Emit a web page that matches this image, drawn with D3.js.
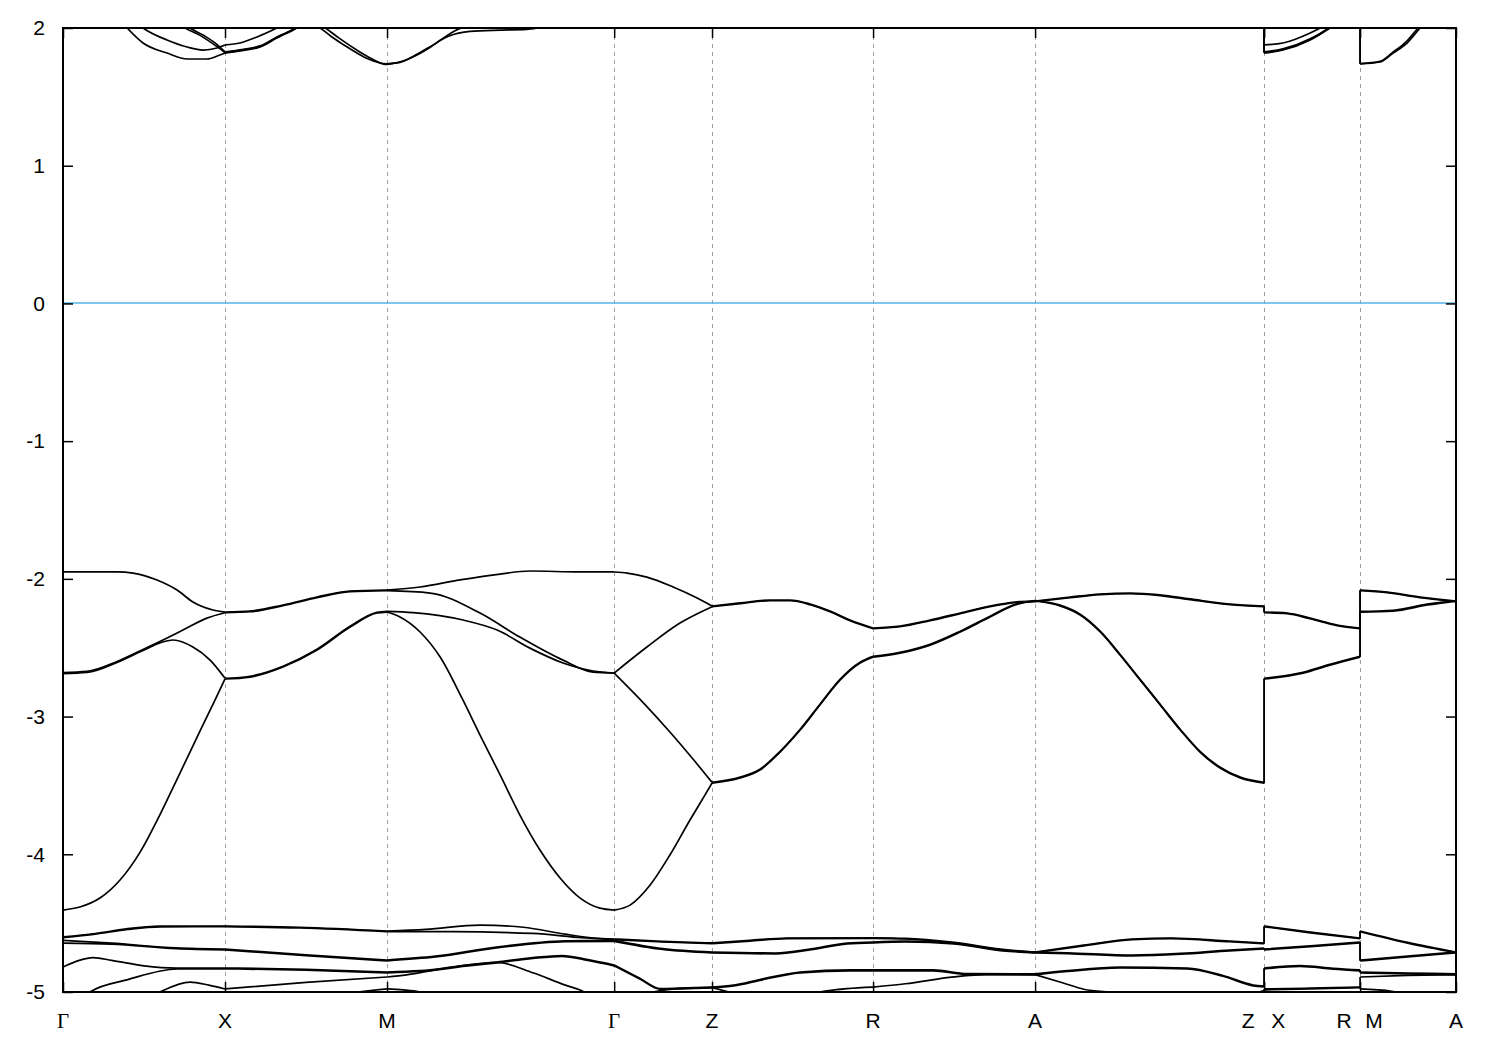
<!DOCTYPE html>
<html><head><meta charset="utf-8">
<script src="https://cdn.jsdelivr.net/npm/d3@7"></script>
<style>
body{margin:0;background:#fff;}
svg{display:block;}
</style></head><body>
<svg id="chart" width="1500" height="1050"></svg>
<script>
// ---- k-path (high-symmetry points) ----
const kPoints = [0, 0.5, 1.0, 1.701, 2.003, 2.5, 3.0, 3.707, 4.003, 4.299];
const kLabels = ["Γ", "X", "M", "Γ", "Z", "R", "A", "Z|X", "R|M", "A"];
const yTickValues = [-5, -4, -3, -2, -1, 0, 1, 2];
const energyRange = [-5, 2];
const fermiEnergy = 0;

// ---- conduction bands (top) ----
const c1 = [[0,2.6],[0.1,2.3],[0.198,2.0],[0.247,1.891],[0.321,1.818],[0.383,1.775],[0.444,1.775],[0.48,1.8],[0.5,1.818],[0.546,1.833],[0.608,1.862],[0.66,1.927],[0.722,2.0],[0.76,2.03],[0.793,2.0],[0.83,1.935],[0.892,1.84],[0.935,1.782],[0.98,1.746],[1.0,1.74],[1.04,1.75],[1.07,1.78],[1.13,1.86],[1.19,1.94],[1.256,1.975],[1.35,1.985],[1.43,1.99],[1.49,2.02],[1.6,2.3],[1.701,2.5],[2.003,2.7],[2.5,2.7],[3.0,2.7],[3.707,2.6],[3.707,1.818],[3.765,1.84],[3.849,1.913],[3.91,2.0],[4.003,2.15],[4.003,1.739],[4.065,1.753],[4.105,1.818],[4.148,1.891],[4.188,2.0],[4.299,2.3]];
const c2 = [[0,2.7],[0.1,2.4],[0.247,2.0],[0.321,1.913],[0.383,1.862],[0.432,1.84],[0.475,1.855],[0.5,1.877],[0.546,1.891],[0.599,1.935],[0.66,2.0],[0.74,2.1],[0.81,2.0],[0.85,1.93],[0.91,1.835],[0.95,1.78],[0.99,1.737],[1.0,1.735],[1.06,1.77],[1.12,1.84],[1.17,1.92],[1.21,1.98],[1.25,2.02],[1.35,2.15],[1.701,2.45],[2.003,2.8],[2.5,2.8],[3.0,2.8],[3.707,2.7],[3.707,1.877],[3.765,1.891],[3.849,1.964],[3.88,2.0],[4.003,2.2],[4.003,1.742],[4.065,1.758],[4.105,1.826],[4.145,1.9],[4.182,2.0],[4.299,2.3]];
const c3 = [[0,2.9],[0.3,2.15],[0.377,2.0],[0.42,1.95],[0.46,1.89],[0.5,1.822],[0.546,1.837],[0.608,1.866],[0.66,1.931],[0.722,2.004],[0.8,2.2],[1.0,2.4],[1.701,2.8],[2.5,2.9],[3.707,2.8],[3.707,1.822],[3.765,1.844],[3.849,1.917],[3.91,2.004],[4.003,2.2],[4.003,2.3],[4.299,2.5]];
const c4 = [[0,2.95],[0.3,2.2],[0.392,2.0],[0.435,1.945],[0.47,1.89],[0.5,1.826],[0.546,1.841],[0.608,1.87],[0.66,1.935],[0.722,2.008],[0.8,2.2],[1.0,2.45],[1.701,2.85],[2.5,2.95],[3.707,2.85],[3.707,1.826],[3.765,1.848],[3.849,1.921],[3.91,2.008],[4.003,2.25],[4.003,2.35],[4.299,2.55]];

// ---- valence bands (middle group) ----
const m1 = [[0,-4.405],[0.052,-4.383],[0.114,-4.318],[0.176,-4.187],[0.238,-3.984],[0.299,-3.713],[0.361,-3.41],[0.423,-3.104],[0.469,-2.88],[0.5,-2.727],[0.577,-2.713],[0.679,-2.64],[0.784,-2.517],[0.886,-2.35],[0.969,-2.248],[1.0,-2.241],[1.04,-2.277],[1.102,-2.386],[1.164,-2.568],[1.231,-2.865],[1.287,-3.134],[1.349,-3.424],[1.41,-3.715],[1.472,-3.969],[1.534,-4.172],[1.596,-4.318],[1.657,-4.391],[1.701,-4.405],[1.75,-4.369],[1.812,-4.223],[1.873,-4.005],[1.935,-3.751],[1.981,-3.57],[2.003,-3.483],[2.09,-3.446],[2.151,-3.388],[2.213,-3.258],[2.275,-3.098],[2.336,-2.916],[2.398,-2.735],[2.46,-2.611],[2.5,-2.568],[2.583,-2.539],[2.676,-2.481],[2.769,-2.386],[2.861,-2.277],[2.938,-2.19],[3.0,-2.161],[3.077,-2.197],[3.139,-2.263],[3.201,-2.386],[3.262,-2.553],[3.324,-2.735],[3.386,-2.916],[3.448,-3.098],[3.509,-3.258],[3.571,-3.374],[3.633,-3.446],[3.707,-3.483],[3.707,-2.727],[3.827,-2.684],[3.91,-2.626],[4.003,-2.568],[4.003,-2.241],[4.105,-2.234],[4.21,-2.19],[4.299,-2.161]];
const m2 = [[0,-2.688],[0.074,-2.68],[0.167,-2.607],[0.247,-2.52],[0.299,-2.465],[0.34,-2.444],[0.401,-2.495],[0.454,-2.59],[0.5,-2.722],[0.577,-2.707],[0.679,-2.634],[0.784,-2.511],[0.886,-2.344],[0.969,-2.243],[1.0,-2.236],[1.08,-2.245],[1.235,-2.299],[1.34,-2.372],[1.441,-2.503],[1.543,-2.611],[1.636,-2.669],[1.701,-2.684],[1.781,-2.875],[1.873,-3.112],[1.95,-3.325],[2.003,-3.478],[2.09,-3.44],[2.151,-3.382],[2.213,-3.252],[2.275,-3.092],[2.336,-2.91],[2.398,-2.729],[2.46,-2.605],[2.5,-2.562],[2.583,-2.533],[2.676,-2.475],[2.769,-2.38],[2.861,-2.271],[2.938,-2.185],[3.0,-2.158],[3.077,-2.191],[3.139,-2.257],[3.201,-2.38],[3.262,-2.547],[3.324,-2.729],[3.386,-2.91],[3.448,-3.092],[3.509,-3.252],[3.571,-3.368],[3.633,-3.44],[3.707,-3.478],[3.707,-2.722],[3.827,-2.678],[3.91,-2.62],[4.003,-2.562],[4.003,-2.236],[4.105,-2.228],[4.21,-2.184],[4.299,-2.158]];
const m3 = [[0,-2.68],[0.074,-2.672],[0.167,-2.6],[0.247,-2.513],[0.299,-2.455],[0.37,-2.372],[0.444,-2.285],[0.5,-2.246],[0.577,-2.239],[0.679,-2.195],[0.784,-2.137],[0.886,-2.093],[1.0,-2.086],[1.133,-2.103],[1.287,-2.248],[1.41,-2.423],[1.543,-2.59],[1.636,-2.677],[1.701,-2.684],[1.802,-2.495],[1.904,-2.321],[2.003,-2.202],[2.09,-2.18],[2.182,-2.159],[2.244,-2.159],[2.306,-2.188],[2.367,-2.239],[2.429,-2.304],[2.5,-2.362],[2.583,-2.348],[2.676,-2.304],[2.769,-2.253],[2.861,-2.202],[2.938,-2.173],[3.0,-2.166],[3.108,-2.137],[3.201,-2.115],[3.293,-2.108],[3.386,-2.122],[3.478,-2.151],[3.602,-2.188],[3.707,-2.202],[3.707,-2.246],[3.778,-2.253],[3.849,-2.29],[3.932,-2.34],[4.003,-2.362],[4.003,-2.086],[4.087,-2.101],[4.188,-2.137],[4.299,-2.166]];
const m4 = [[0,-1.95],[0.167,-1.95],[0.216,-1.958],[0.29,-2.008],[0.352,-2.081],[0.401,-2.168],[0.463,-2.226],[0.5,-2.241],[0.577,-2.234],[0.679,-2.19],[0.784,-2.132],[0.886,-2.088],[1.0,-2.081],[1.102,-2.059],[1.225,-2.008],[1.349,-1.965],[1.441,-1.943],[1.596,-1.95],[1.701,-1.95],[1.741,-1.958],[1.802,-1.987],[1.883,-2.059],[1.957,-2.139],[2.003,-2.197],[2.09,-2.175],[2.182,-2.154],[2.244,-2.154],[2.306,-2.183],[2.367,-2.234],[2.429,-2.299],[2.5,-2.357],[2.583,-2.343],[2.676,-2.299],[2.769,-2.248],[2.861,-2.197],[2.938,-2.168],[3.0,-2.161],[3.108,-2.132],[3.201,-2.11],[3.293,-2.103],[3.386,-2.117],[3.478,-2.146],[3.602,-2.183],[3.707,-2.197],[3.707,-2.241],[3.778,-2.248],[3.849,-2.285],[3.932,-2.335],[4.003,-2.357],[4.003,-2.081],[4.087,-2.096],[4.188,-2.132],[4.299,-2.161]];

// ---- valence bands (lower group) ----
const l1 = [[0,-4.6],[0.1,-4.575],[0.2,-4.54],[0.3,-4.522],[0.5,-4.521],[0.73,-4.53],[1.0,-4.557],[1.12,-4.545],[1.287,-4.514],[1.42,-4.53],[1.55,-4.58],[1.636,-4.608],[1.701,-4.615],[1.85,-4.632],[2.003,-4.644],[2.12,-4.625],[2.235,-4.608],[2.5,-4.606],[2.6,-4.61],[2.75,-4.64],[2.9,-4.69],[3.0,-4.71],[3.15,-4.66],[3.3,-4.615],[3.42,-4.608],[3.6,-4.63],[3.707,-4.644],[3.707,-4.521],[3.85,-4.565],[4.003,-4.608],[4.003,-4.557],[4.15,-4.64],[4.299,-4.71]];
const l2 = [[0,-4.606],[0.1,-4.58],[0.2,-4.546],[0.3,-4.527],[0.5,-4.526],[0.73,-4.535],[1.0,-4.562],[1.2,-4.562],[1.45,-4.575],[1.6,-4.605],[1.701,-4.62],[1.85,-4.637],[2.003,-4.649],[2.12,-4.63],[2.235,-4.613],[2.5,-4.611],[2.6,-4.615],[2.75,-4.645],[2.9,-4.695],[3.0,-4.714],[3.15,-4.665],[3.3,-4.62],[3.42,-4.613],[3.6,-4.635],[3.707,-4.649],[3.707,-4.526],[3.85,-4.57],[4.003,-4.613],[4.003,-4.562],[4.15,-4.645],[4.299,-4.714]];
const l3 = [[0,-4.625],[0.15,-4.645],[0.35,-4.68],[0.5,-4.688],[0.75,-4.73],[1.0,-4.768],[1.15,-4.74],[1.35,-4.67],[1.55,-4.628],[1.701,-4.625],[1.85,-4.685],[2.003,-4.71],[2.2,-4.717],[2.3,-4.69],[2.42,-4.645],[2.5,-4.637],[2.6,-4.63],[2.75,-4.645],[2.9,-4.695],[3.0,-4.71],[3.1,-4.715],[3.3,-4.732],[3.45,-4.72],[3.6,-4.695],[3.707,-4.681],[3.707,-4.688],[3.85,-4.665],[4.003,-4.637],[4.003,-4.768],[4.15,-4.74],[4.299,-4.71]];
const l4 = [[0,-4.645],[0.15,-4.652],[0.35,-4.686],[0.5,-4.694],[0.75,-4.736],[1.0,-4.774],[1.15,-4.746],[1.35,-4.676],[1.55,-4.634],[1.701,-4.632],[1.85,-4.691],[2.003,-4.716],[2.2,-4.723],[2.3,-4.696],[2.42,-4.651],[2.5,-4.643],[2.6,-4.636],[2.75,-4.651],[2.9,-4.701],[3.0,-4.716],[3.1,-4.721],[3.3,-4.738],[3.45,-4.726],[3.6,-4.701],[3.707,-4.687],[3.707,-4.694],[3.85,-4.671],[4.003,-4.643],[4.003,-4.774],[4.15,-4.746],[4.299,-4.716]];
const l5 = [[0,-4.819],[0.05,-4.77],[0.093,-4.75],[0.15,-4.77],[0.25,-4.81],[0.35,-4.826],[0.5,-4.826],[0.75,-4.835],[1.0,-4.855],[1.1,-4.845],[1.25,-4.805],[1.34,-4.782],[1.45,-4.75],[1.54,-4.735],[1.62,-4.765],[1.701,-4.804],[1.78,-4.9],[1.843,-4.975],[1.9,-4.972],[2.003,-4.964],[2.07,-4.95],[2.15,-4.91],[2.275,-4.855],[2.43,-4.84],[2.5,-4.84],[2.685,-4.84],[2.79,-4.866],[3.0,-4.869],[3.1,-4.845],[3.262,-4.819],[3.469,-4.826],[3.58,-4.88],[3.673,-4.949],[3.707,-4.957],[3.707,-4.826],[3.818,-4.808],[3.92,-4.828],[4.003,-4.84],[4.003,-4.855],[4.15,-4.862],[4.299,-4.869]];
const l6 = [[0,-5.3],[0.083,-5.0],[0.2,-4.91],[0.352,-4.833],[0.5,-4.832],[0.75,-4.841],[1.0,-4.861],[1.1,-4.851],[1.25,-4.811],[1.34,-4.788],[1.45,-4.756],[1.54,-4.741],[1.62,-4.771],[1.701,-4.81],[1.78,-4.906],[1.843,-4.98],[1.9,-4.977],[2.003,-4.97],[2.07,-4.956],[2.15,-4.916],[2.275,-4.861],[2.43,-4.846],[2.5,-4.846],[2.685,-4.846],[2.79,-4.872],[3.0,-4.875],[3.1,-4.851],[3.262,-4.825],[3.469,-4.832],[3.58,-4.886],[3.673,-4.955],[3.707,-4.963],[3.707,-4.832],[3.818,-4.814],[3.92,-4.834],[4.003,-4.846],[4.003,-4.861],[4.15,-4.868],[4.299,-4.875]];
const l7 = [[0,-5.4],[0.25,-5.06],[0.299,-5.0],[0.392,-4.928],[0.45,-4.95],[0.5,-4.978],[0.75,-4.93],[1.0,-4.891],[1.06,-4.875],[1.2,-4.82],[1.34,-4.785],[1.45,-4.86],[1.55,-4.95],[1.596,-4.986],[1.65,-5.06],[1.701,-5.1],[1.82,-5.0],[1.9,-4.975],[2.003,-4.968],[2.1,-5.03],[2.2,-5.1],[2.336,-5.0],[2.42,-4.975],[2.5,-4.964],[2.6,-4.94],[2.75,-4.89],[2.85,-4.874],[3.0,-4.874],[3.087,-4.935],[3.15,-4.98],[3.262,-5.01],[3.4,-5.1],[3.6,-5.05],[3.707,-4.99],[3.707,-4.978],[3.85,-4.972],[4.003,-4.964],[4.003,-4.891],[4.15,-4.88],[4.299,-4.874]];
const l8 = [[0,-5.4],[0.5,-5.2],[0.85,-5.02],[1.0,-4.978],[1.05,-4.985],[1.1,-5.0],[1.2,-5.1],[1.701,-5.3],[2.003,-5.2],[2.5,-5.2],[3.0,-5.2],[3.707,-5.1],[3.707,-4.984],[3.85,-4.978],[4.003,-4.968],[4.003,-4.978],[4.1,-4.995],[4.15,-5.02],[4.299,-5.1]];

const bands = [c1, c2, c3, c4, m1, m2, m3, m4, l1, l2, l3, l4, l5, l6, l7, l8];

// ---- drawing ----
const W = 1500, H = 1050;
const plot = {left: 63, right: 1456, top: 28, bottom: 992};
const svg = d3.select("#chart");
svg.append("rect").attr("width", W).attr("height", H).attr("fill", "#fff");

const x = d3.scaleLinear().domain([kPoints[0], kPoints[kPoints.length - 1]]).range([plot.left, plot.right]);
const y = d3.scaleLinear().domain(energyRange).range([plot.bottom, plot.top]);

svg.append("defs").append("clipPath").attr("id", "clip")
  .append("rect").attr("x", plot.left).attr("y", plot.top)
  .attr("width", plot.right - plot.left).attr("height", plot.bottom - plot.top);

// dashed vertical lines at interior k-points
svg.append("g").selectAll("line").data(kPoints.slice(1, -1)).join("line")
  .attr("x1", d => Math.round(x(d)) + 0.5).attr("x2", d => Math.round(x(d)) + 0.5)
  .attr("y1", y(energyRange[1])).attr("y2", y(energyRange[0]))
  .attr("stroke", "#a0a0a0").attr("stroke-width", 1).attr("stroke-dasharray", "4,4");

// Fermi level
svg.append("line")
  .attr("x1", x.range()[0]).attr("x2", x.range()[1])
  .attr("y1", Math.round(y(fermiEnergy))).attr("y2", Math.round(y(fermiEnergy)))
  .attr("stroke", "#56b4e9").attr("stroke-width", 1.5);

// bands: smooth between high-symmetry points, vertical connectors at path breaks
const kSet = new Set(kPoints);
const curveGen = d3.line().x(d => x(d[0])).y(d => y(d[1])).curve(d3.curveMonotoneX);
const straightGen = d3.line().x(d => x(d[0])).y(d => y(d[1]));
const gb = svg.append("g").attr("clip-path", "url(#clip)")
  .attr("fill", "none").attr("stroke", "#000").attr("stroke-width", 1.7)
  .attr("stroke-linejoin", "round");
bands.forEach(b => {
  const segs = [[b[0]]];
  const jumps = [];
  for (let i = 1; i < b.length; i++) {
    if (b[i][0] === b[i - 1][0]) { jumps.push([b[i - 1], b[i]]); segs.push([b[i]]); continue; }
    segs[segs.length - 1].push(b[i]);
    const isBreak = kSet.has(b[i][0]) && i < b.length - 1 && b[i + 1][0] !== b[i][0];
    if (isBreak) segs.push([b[i]]);
  }
  segs.forEach(s => { if (s.length > 1) gb.append("path").attr("d", curveGen(s)); });
  jumps.forEach(j => gb.append("path").attr("d", straightGen(j)));
});

// axes (inward ticks on all four sides)
const fontSans = "'Liberation Sans', Arial, Helvetica, sans-serif";
const axL = svg.append("g").attr("transform", `translate(${plot.left},0)`)
  .call(d3.axisLeft(y).tickValues(yTickValues).tickSize(-10).tickPadding(18).tickFormat(d => String(d)));
const axR = svg.append("g").attr("transform", `translate(${plot.right},0)`)
  .call(d3.axisRight(y).tickValues(yTickValues).tickSize(-10).tickFormat(""));
const axB = svg.append("g").attr("transform", `translate(0,${plot.bottom})`)
  .call(d3.axisBottom(x).tickValues(kPoints).tickSize(-10).tickFormat(""));
const axT = svg.append("g").attr("transform", `translate(0,${plot.top})`)
  .call(d3.axisTop(x).tickValues(kPoints).tickSize(-10).tickFormat(""));
[axL, axR, axB, axT].forEach(a => {
  a.select(".domain").remove();
  a.selectAll(".tick line").attr("stroke", "#000").attr("stroke-width", 1.5);
});
axL.selectAll(".tick text").attr("font-family", fontSans).attr("font-size", 21).attr("fill", "#000");

// k-point labels
const gl = svg.append("g").attr("font-size", 21).attr("fill", "#000").attr("text-anchor", "middle");
kPoints.forEach((k, i) => {
  const parts = kLabels[i].split("|");
  const offs = parts.length === 2 ? [-16, 14] : [0];
  parts.forEach((p, j) => {
    gl.append("text")
      .attr("x", x(k) + offs[j]).attr("y", plot.bottom + 36)
      .attr("font-family", p === "Γ" ? "'Liberation Serif', 'Times New Roman', serif" : fontSans)
      .text(p);
  });
});

// frame
svg.append("rect").attr("x", plot.left).attr("y", plot.top)
  .attr("width", plot.right - plot.left).attr("height", plot.bottom - plot.top)
  .attr("fill", "none").attr("stroke", "#000").attr("stroke-width", 2);
</script>
</body></html>
